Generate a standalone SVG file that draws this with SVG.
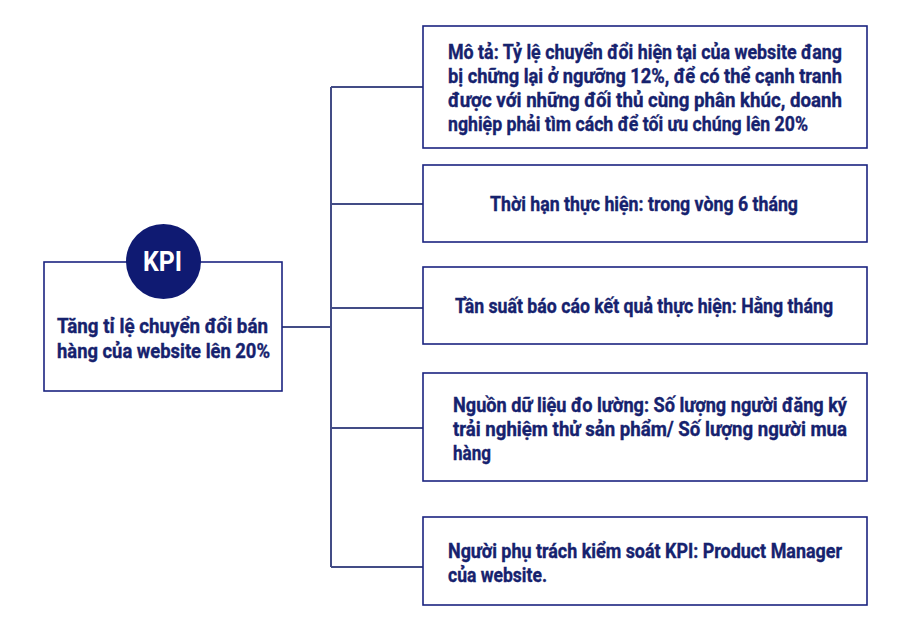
<svg xmlns="http://www.w3.org/2000/svg" width="900" height="633" viewBox="0 0 900 633">
<style>
.box{fill:#fff;stroke:#1b2480;stroke-width:1.6}
.conn{fill:none;stroke:#434c86;stroke-width:2}
.t{font-family:"Roboto","Liberation Sans",sans-serif;font-weight:bold;font-size:19.5px;fill:#16226e;stroke:#16226e;stroke-width:0.35}
.kpi{font-family:"Roboto","Liberation Sans",sans-serif;font-weight:bold;font-size:28px;fill:#fff}
</style>
<rect width="900" height="633" fill="#fff"/>
<g id="connectors">
<path class="conn" d="M282,327 H331 M331,87 V567 M331,87 H423 M331,204 H423 M331,308 H423 M331,428 H423 M331,567 H423"/>
</g>
<g id="kpi-node">
<rect class="box" x="44" y="262" width="238" height="129"/>
<circle cx="163.5" cy="261.5" r="37.5" fill="#0f1a72"/>
<text class="kpi" x="162.5" y="271" text-anchor="middle" textLength="39" lengthAdjust="spacingAndGlyphs">KPI</text>
<text class="t" x="57" y="333" textLength="211" lengthAdjust="spacingAndGlyphs">Tăng tỉ lệ chuyển đổi bán</text>
<text class="t" x="57" y="358" textLength="213" lengthAdjust="spacingAndGlyphs">hàng của website lên 20%</text>
</g>
<g id="node-mota">
<rect class="box" x="423" y="26" width="444" height="122"/>
<text class="t" x="448" y="59" textLength="394" lengthAdjust="spacingAndGlyphs">Mô tả: Tỷ lệ chuyển đổi hiện tại của website đang</text>
<text class="t" x="448" y="83" textLength="394" lengthAdjust="spacingAndGlyphs">bị chững lại ở ngưỡng 12%, để có thể cạnh tranh</text>
<text class="t" x="448" y="107" textLength="394" lengthAdjust="spacingAndGlyphs">được với những đối thủ cùng phân khúc, doanh</text>
<text class="t" x="448" y="131" textLength="360" lengthAdjust="spacingAndGlyphs">nghiệp phải tìm cách để tối ưu chúng lên 20%</text>
</g>
<g id="node-thoihan">
<rect class="box" x="423" y="165" width="444" height="77"/>
<text class="t" x="490" y="211" textLength="308" lengthAdjust="spacingAndGlyphs">Thời hạn thực hiện: trong vòng 6 tháng</text>
</g>
<g id="node-tansuat">
<rect class="box" x="423" y="267" width="444" height="77"/>
<text class="t" x="455" y="313" textLength="378" lengthAdjust="spacingAndGlyphs">Tần suất báo cáo kết quả thực hiện: Hằng tháng</text>
</g>
<g id="node-nguon">
<rect class="box" x="423" y="373" width="444" height="108"/>
<text class="t" x="453" y="412" textLength="394" lengthAdjust="spacingAndGlyphs">Nguồn dữ liệu đo lường: Số lượng người đăng ký</text>
<text class="t" x="453" y="436" textLength="394" lengthAdjust="spacingAndGlyphs">trải nghiệm thử sản phẩm/ Số lượng người mua</text>
<text class="t" x="453" y="460" textLength="38" lengthAdjust="spacingAndGlyphs">hàng</text>
</g>
<g id="node-nguoi">
<rect class="box" x="423" y="517" width="444" height="88"/>
<text class="t" x="448" y="558" textLength="394" lengthAdjust="spacingAndGlyphs">Người phụ trách kiểm soát KPI: Product Manager</text>
<text class="t" x="448" y="582" textLength="99" lengthAdjust="spacingAndGlyphs">của website.</text>
</g>
</svg>
